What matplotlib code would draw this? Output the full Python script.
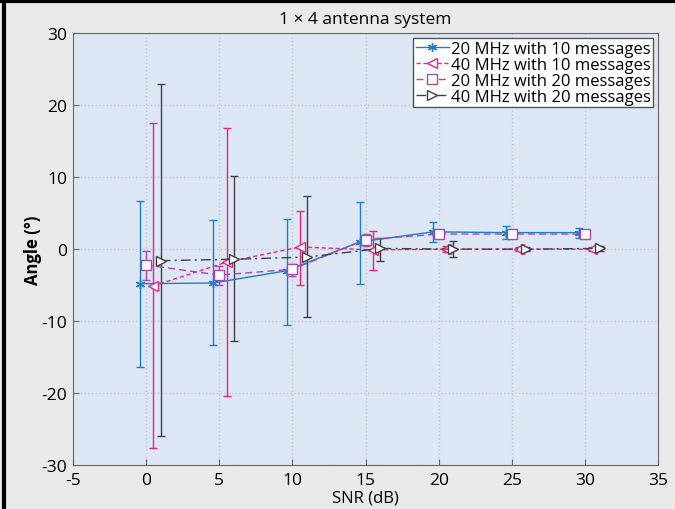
import matplotlib.pyplot as plt
import numpy as np

# SNR positions (each series slightly offset in the original)
snr_20_10 = [-0.4, 4.6, 9.6, 14.6, 19.6, 24.6, 29.6]
ang_20_10 = [-4.8, -4.7, -3.0, 1.0, 2.4, 2.3, 2.3]
lo_20_10 = [-16.3, -13.3, -10.5, -4.8, 1.0, 1.4, 1.5]
hi_20_10 = [6.7, 4.0, 4.2, 6.5, 3.8, 3.2, 2.9]

snr_40_10 = [0.5, 5.5, 10.5, 15.5, 20.5, 25.5, 30.5]
ang_40_10 = [-5.1, -1.8, 0.3, -0.1, 0.0, 0.0, 0.0]
lo_40_10 = [-27.6, -20.4, -5.0, -2.9, -0.4, -0.3, -0.3]
hi_40_10 = [17.5, 16.8, 5.3, 2.5, 0.4, 0.3, 0.3]

snr_20_20 = [0.0, 5.0, 10.0, 15.0, 20.0, 25.0, 30.0]
ang_20_20 = [-2.2, -3.6, -2.8, 1.3, 2.1, 2.1, 2.1]
lo_20_20 = [-4.3, -5.0, -3.7, 0.5, 1.6, 1.8, 1.9]
hi_20_20 = [-0.2, -2.3, -2.0, 2.1, 2.6, 2.4, 2.3]

snr_40_20 = [1.0, 6.0, 11.0, 16.0, 21.0, 26.0, 31.0]
ang_40_20 = [-1.6, -1.4, -1.1, 0.1, 0.0, 0.0, 0.1]
lo_40_20 = [-26.0, -12.7, -9.4, -1.6, -1.1, -0.3, -0.3]
hi_40_20 = [22.9, 10.2, 7.4, 1.6, 1.2, 0.3, 0.4]

plt.rcParams['font.family'] = ['Open Sans', 'DejaVu Sans']
plt.rcParams['axes.unicode_minus'] = False

fig = plt.figure(figsize=(6.75, 5.1), dpi=100, facecolor='#e9e9e9')
ax = fig.add_axes([0.108, 0.086, 0.867, 0.847])
ax.set_facecolor('#dce6f4')

series = [
    (snr_20_10, ang_20_10, lo_20_10, hi_20_10, '#1f7fc4', (6, 2, 0), '-', '20 MHz with 10 messages'),
    (snr_40_10, ang_40_10, lo_40_10, hi_40_10, '#e8257f', '<', (0, (3, 2)), '40 MHz with 10 messages'),
    (snr_20_20, ang_20_20, lo_20_20, hi_20_20, '#a84aa8', 's', (0, (5, 3)), '20 MHz with 20 messages'),
    (snr_40_20, ang_40_20, lo_40_20, hi_40_20, '#404040', '>', (0, (7, 3, 1.5, 3)), '40 MHz with 20 messages'),
]

handles, labels = [], []
for x, y, lo, hi, c, m, ls, lab in series:
    y = np.array(y)
    err = [y - np.array(lo), np.array(hi) - y]
    cont = ax.errorbar(x, y, yerr=err, color=c, marker=m, linestyle=ls, lw=1.0,
                       mfc='white' if m != (6, 2, 0) else c, mec=c, mew=1.0,
                       ms=6.5, capsize=3, elinewidth=1.0)
    handles.append(cont[0])
    labels.append(lab)

ax.set_xlim(-5, 35)
ax.set_ylim(-30, 30)
ax.set_xticks(np.arange(-5, 36, 5))
ax.set_yticks(np.arange(-30, 31, 10))
ax.grid(True, color='#c8c8c8', linestyle=':', lw=1)
ax.tick_params(labelsize=12.5, direction='in', length=4, color='#666666')
ax.tick_params(axis='x', pad=5)
ax.tick_params(axis='y', pad=4)
for s in ax.spines.values():
    s.set_color('#666666')

ax.set_title('1 \u00d7 4 antenna system', fontsize=12.5, pad=7)
ax.set_xlabel('SNR (dB)', fontsize=12, labelpad=1)
ax.set_ylabel('Angle (\u00b0)', fontsize=12, fontweight='bold', labelpad=0)

leg = ax.legend(handles, labels, loc='upper right', fontsize=12, fancybox=False,
                framealpha=1, edgecolor='#555555', handlelength=2.0, borderpad=0.15,
                labelspacing=0.0, handletextpad=0.1, borderaxespad=0.3)

# frame lines at top and left of the image
fig.add_artist(plt.Line2D([0.006, 0.006], [0, 1], color='black', lw=3, transform=fig.transFigure))
fig.add_artist(plt.Line2D([0, 1], [0.997, 0.997], color='black', lw=3, transform=fig.transFigure))

fig.savefig('out.png', dpi=100, facecolor=fig.get_facecolor())
